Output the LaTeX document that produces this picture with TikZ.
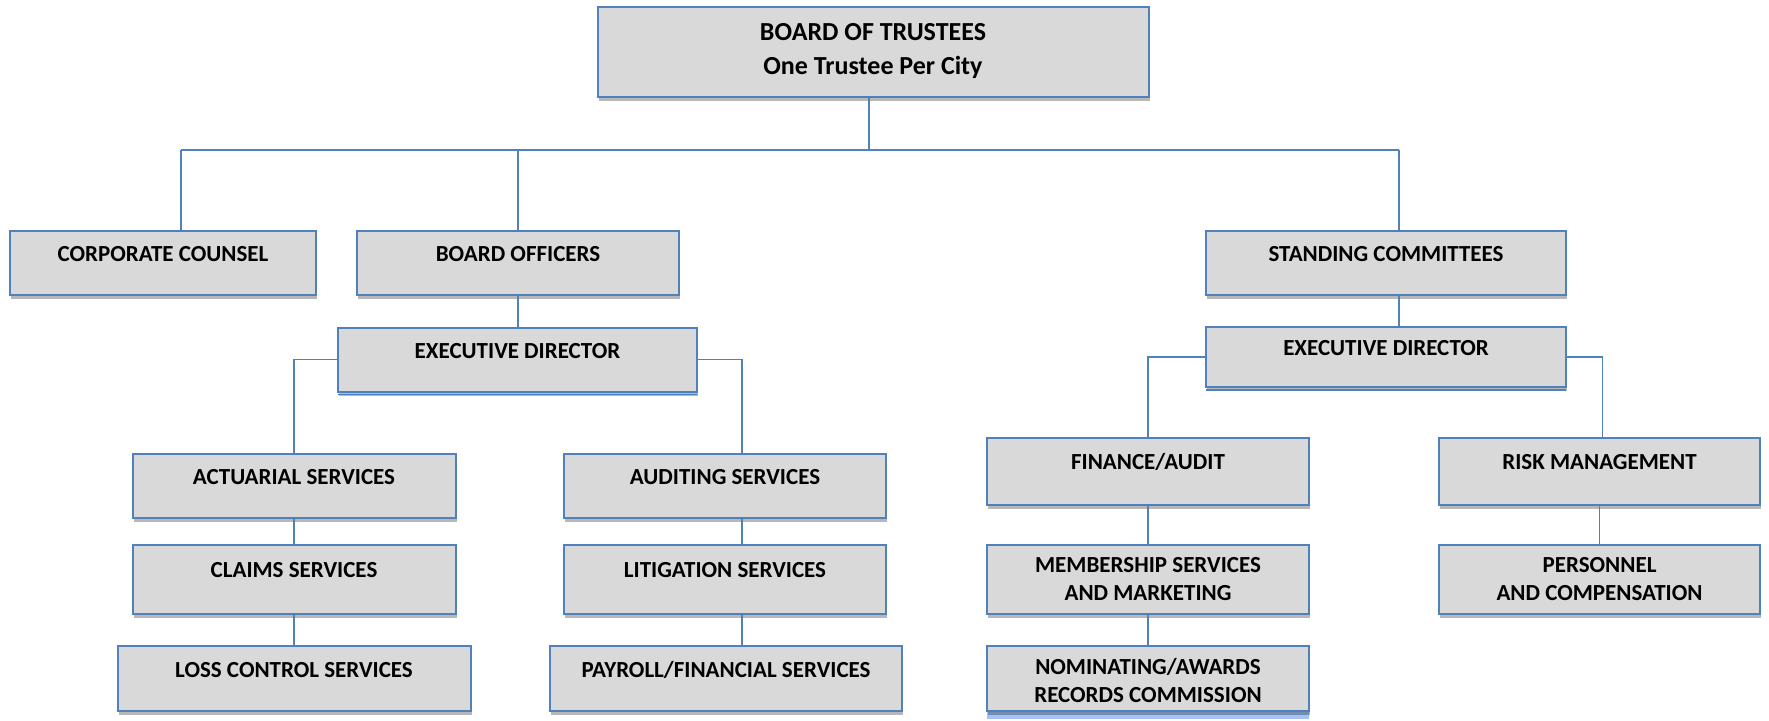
\documentclass[tikz,border=0pt]{standalone}
\usepackage{fontspec}
\setmainfont{Carlito}
\usetikzlibrary{shadows}
\definecolor{bord}{HTML}{4F81BD}
\definecolor{boxfill}{HTML}{D9D9D9}
\definecolor{band}{HTML}{A4C2F4}
\begin{document}
\begin{tikzpicture}[x=1pt,y=-1pt,
  box/.style={draw=bord, line width=2pt, fill=boxfill, inner sep=0pt, outer sep=0pt,
    align=center, font=\fontsize{23}{28}\selectfont\bfseries,
    drop shadow={shadow xshift=1pt, shadow yshift=-4pt, opacity=0.28, fill=black}},
  one/.style={box, text height=15pt, text depth=18pt},
  conn/.style={draw=bord, line width=1.6pt}]
\useasboundingbox (0,0) rectangle (1769,720);
% boxes
\node[box, minimum width=551pt, minimum height=90pt, font=\fontsize{26}{34}\selectfont\bfseries] (board) at (873,51.5) {BOARD OF TRUSTEES\\One Trustee Per City};
\node[one, minimum width=306pt, minimum height=64pt] (cc) at (163,263) {CORPORATE COUNSEL};
\node[one, minimum width=322pt, minimum height=64pt] (bo) at (518,263) {BOARD OFFICERS};
\node[one, minimum width=360pt, minimum height=64pt] (sc) at (1386,263) {STANDING COMMITTEES};
\node[one, minimum width=359pt, minimum height=64pt] (ed1) at (517.5,359.5) {EXECUTIVE DIRECTOR};
\node[one, minimum width=360pt, minimum height=60pt] (ed2) at (1386,357) {EXECUTIVE DIRECTOR};
\node[one, minimum width=323pt, minimum height=64pt] (act) at (294,485.5) {ACTUARIAL SERVICES};
\node[one, minimum width=323pt, minimum height=69pt] (cla) at (294,579) {CLAIMS SERVICES};
\node[one, minimum width=353pt, minimum height=65pt] (los) at (294,678.5) {LOSS CONTROL SERVICES};
\node[one, minimum width=322pt, minimum height=64pt] (aud) at (725,485.5) {AUDITING SERVICES};
\node[one, minimum width=322pt, minimum height=69pt] (lit) at (725,579) {LITIGATION SERVICES};
\node[one, minimum width=352pt, minimum height=65pt] (pay) at (726,678.5) {PAYROLL/FINANCIAL SERVICES};
\node[one, minimum width=322pt, minimum height=67pt] (fin) at (1148,471) {FINANCE/AUDIT};
\node[box, minimum width=322pt, minimum height=69pt] (mem) at (1148,579) {MEMBERSHIP SERVICES\\AND MARKETING};
\fill[band] (1148-161,711) rectangle (1148+161,719);
\node[box, minimum width=322pt, minimum height=65pt, text height=48pt, text depth=0pt] (nom) at (1148,678.5) {NOMINATING/AWARDS\\RECORDS COMMISSION};
\node[one, minimum width=321pt, minimum height=67pt] (risk) at (1599.5,471) {RISK MANAGEMENT};
\node[box, minimum width=321pt, minimum height=69pt] (pers) at (1599.5,579) {PERSONNEL\\AND COMPENSATION};
% extra bottom line of executive director boxes
\draw[draw=bord, line width=1.2pt] ([yshift=-3pt]ed1.south west) -- ([yshift=-3pt]ed1.south east);
\draw[draw=bord, line width=1.2pt] ([yshift=-3pt]ed2.south west) -- ([yshift=-3pt]ed2.south east);
% connectors
\coordinate (t0) at (869,150);
\coordinate (tl) at (181,150);
\coordinate (tr) at (1399,150);
\coordinate (cR) at (742,359.5);
\draw[conn] (board.south -| t0) -- (t0);
\draw[conn] (tl) -- (tr);
\draw[conn] (tl) -- (cc.north -| tl);
\draw[conn] (bo.north |- t0) -- (bo.north);
\draw[conn] (tr) -- (sc.north -| tr);
\draw[conn] (bo.south) -- (ed1.north -| bo.south);
\draw[conn] (sc.south -| tr) -- (ed2.north -| tr);
\draw[conn] (ed1.west) -| (act.north);
\draw[conn] (ed1.east) -- (cR) -- (aud.north -| cR);
\draw[conn] (act.south) -- (cla.north);
\draw[conn] (cla.south) -- (los.north);
\draw[conn] (aud.south -| cR) -- (lit.north -| cR);
\draw[conn] (lit.south -| cR) -- (pay.north -| cR);
\draw[conn] (ed2.west) -| (fin.north);
\draw[conn] (ed2.east) -| ([xshift=3pt]risk.north);
\draw[conn] (fin.south) -- (mem.north);
\draw[conn] (mem.south) -- (nom.north);
\draw[conn] (risk.south) -- (pers.north);
\end{tikzpicture}
\end{document}
